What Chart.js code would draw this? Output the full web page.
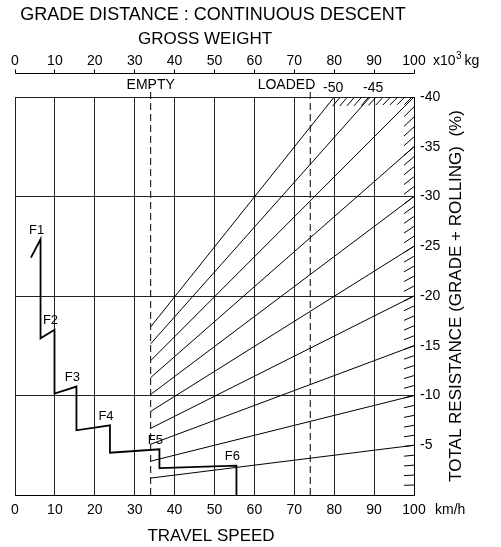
<!DOCTYPE html>
<html>
<head>
<meta charset="utf-8">
<title>Grade distance : continuous descent</title>
<script src="https://cdn.jsdelivr.net/npm/chart.js@4.4.1/dist/chart.umd.min.js"></script>
<style>
  html, body { margin: 0; padding: 0; background: #fff; }
  #wrap { position: relative; width: 501px; height: 547px; }
</style>
</head>
<body>
<div id="wrap"><canvas id="gradeChart"></canvas></div>
<script>
// ==============================
// DATA
// ==============================
const speedTicks = [0, 10, 20, 30, 40, 50, 60, 70, 80, 90, 100];        // km/h
const weightTicks = [0, 10, 20, 30, 40, 50, 60, 70, 80, 90, 100];       // x10^3 kg
const resistanceTicks = [-40, -35, -30, -25, -20, -15, -10, -5];        // %

const emptyWeight = 34;
const loadedWeight = 74;

// total resistance lines (start on the EMPTY line, end on the right edge or top)
const gradeLabels = ['-5', '-10', '-15', '-20', '-25', '-30', '-35', '-40', '-45', '-50'];
const gradeStartRes = [-1.7, -3.4, -5.1, -6.7, -8.4, -10.1, -11.8, -13.5, -15.2, -16.9];
const gradeEndWeight = [100, 100, 100, 100, 100, 100, 100, 100, 89, 80];
const gradeEndRes = [-5, -10, -15, -20, -25, -30, -35, -40, -40, -40];

// gear curves F1..F6
const gearNames = ['F1', 'F2', 'F3', 'F4', 'F5', 'F6'];
const gearStartSpeed = [4.0, 6.4, 9.9, 15.4, 23.8, 36.2];
const gearStartRes = [-23.85, -15.75, -10.2, -6.5, -4.25, -2.7];
const gearEndSpeed = [6.4, 9.9, 15.4, 23.8, 36.2, 55.5];
const gearEndRes = [-25.7, -16.6, -10.9, -7.0, -4.6, -2.95];

// ==============================
// DATASETS
// ==============================
const FONT = '"Liberation Sans", Arial, sans-serif';

const gradeSets = gradeLabels.map((lbl, i) => ({
  label: lbl,
  xAxisID: 'xw',
  data: [{ x: emptyWeight, y: gradeStartRes[i] }, { x: gradeEndWeight[i], y: gradeEndRes[i] }],
  borderColor: '#000',
  borderWidth: 1
}));

const gearPath = [];
gearNames.forEach((g, i) => {
  gearPath.push({ x: gearStartSpeed[i], y: gearStartRes[i] });
  gearPath.push({ x: gearEndSpeed[i], y: gearEndRes[i] });
});
// last gear drops down to the speed axis
gearPath.push({ x: gearEndSpeed[gearEndSpeed.length - 1], y: 0 });

const weightMarks = [emptyWeight, loadedWeight].map(w => ({
  label: 'w' + w,
  xAxisID: 'xw',
  data: [{ x: w, y: 0 }, { x: w, y: -41 }],
  borderColor: '#000',
  borderWidth: 1,
  borderDash: [7, 4],
  clip: false
}));

// ==============================
// EXTRA DRAWING (axes outside the plot, hatching, labels)
// ==============================
const decor = {
  id: 'decor',
  afterDraw(chart) {
    const { ctx, scales } = chart;
    const x = scales.x, xw = scales.xw, y = scales.y;
    const al = p => Math.round(p - 0.5) + 0.5;
    ctx.save();
    ctx.fillStyle = '#000';
    ctx.strokeStyle = '#000';
    ctx.lineWidth = 1;

    // hatching on the right edge (parallel to the resistance lines)
    ctx.beginPath();
    for (let v = 1; v < 40; v++) {
      ctx.moveTo(xw.getPixelForValue(100), y.getPixelForValue(-v));
      ctx.lineTo(xw.getPixelForValue(97.5), y.getPixelForValue(-v * 0.975));
    }
    // hatching under the top edge, beyond the -50 line
    for (let w = 81.5; w < 100; w += 1.8) {
      const w2 = w - 1.9;
      ctx.moveTo(xw.getPixelForValue(w), y.getPixelForValue(-40));
      ctx.lineTo(xw.getPixelForValue(w2), y.getPixelForValue(-40 * w2 / w));
    }
    ctx.stroke();

    ctx.textAlign = 'center';
    ctx.textBaseline = 'middle';

    // title
    ctx.font = '18px ' + FONT;
    ctx.fillText('GRADE DISTANCE : CONTINUOUS DESCENT', 213, 15, 393);
    ctx.font = '17px ' + FONT;
    ctx.fillText('GROSS WEIGHT', 205, 39);

    // gross weight axis
    const yAx = 73.5;
    ctx.beginPath();
    ctx.moveTo(al(xw.left), yAx);
    ctx.lineTo(al(xw.right), yAx);
    weightTicks.forEach(t => {
      const X = al(xw.getPixelForValue(t));
      ctx.moveTo(X, yAx);
      ctx.lineTo(X, yAx - 4);
    });
    ctx.stroke();
    ctx.font = '14px ' + FONT;
    weightTicks.forEach(t => ctx.fillText(String(t), xw.getPixelForValue(t), 61));

    // travel speed tick labels
    speedTicks.forEach(t => ctx.fillText(String(t), x.getPixelForValue(t), 510.5));

    // total resistance tick labels
    ctx.textAlign = 'left';
    resistanceTicks.forEach(t => ctx.fillText(String(t), x.right + 6, y.getPixelForValue(t)));

    ctx.fillText('x10', 433, 61);
    const w10 = ctx.measureText('x10').width;
    ctx.font = '10px ' + FONT;
    ctx.fillText('3', 433 + w10 + 0.5, 56);
    ctx.font = '14px ' + FONT;
    ctx.fillText('kg', 433 + w10 + 9, 61);
    ctx.fillText('km/h', 435, 510.5);

    // EMPTY / LOADED
    ctx.textAlign = 'center';
    ctx.fillText('EMPTY', xw.getPixelForValue(emptyWeight), 85);
    ctx.textAlign = 'right';
    ctx.fillText('LOADED', xw.getPixelForValue(loadedWeight) + 5, 85);

    // labels of the lines that leave through the top
    ctx.textAlign = 'center';
    gradeLabels.forEach((lbl, i) => {
      if (gradeEndWeight[i] < 100) {
        const X = xw.getPixelForValue(Math.round(gradeEndWeight[i] / 10) * 10) - 1;
        ctx.fillText(lbl, X, 88);
      }
    });

    // gear labels
    ctx.font = '13px ' + FONT;
    gearNames.forEach((g, i) => {
      ctx.fillText(g, x.getPixelForValue(gearEndSpeed[i]) - 4, y.getPixelForValue(gearEndRes[i]) - 9);
    });

    // axis titles
    ctx.font = '17px ' + FONT;
    ctx.fillText('TRAVEL SPEED', 211, 536);
    ctx.translate(456, 296);
    ctx.rotate(-Math.PI / 2);
    ctx.fillText('TOTAL RESISTANCE (GRADE + ROLLING)  (%)', 0, 0);
    ctx.restore();
  }
};

// ==============================
// CHART
// ==============================
new Chart(document.getElementById('gradeChart'), {
  type: 'scatter',
  data: {
    datasets: [
      ...gradeSets,
      ...weightMarks,
      {
        label: 'gears',
        xAxisID: 'x',
        data: gearPath,
        borderColor: '#000',
        borderWidth: 1.8
      }
    ]
  },
  options: {
    responsive: true,
    maintainAspectRatio: false,
    animation: false,
    showLine: true,
    elements: { point: { radius: 0, hoverRadius: 0 }, line: { tension: 0 } },
    layout: { padding: { left: 15, top: 97, right: 87, bottom: 52 } },
    plugins: { legend: { display: false }, tooltip: { enabled: false }, title: { display: false } },
    scales: {
      x: {
        type: 'linear', position: 'bottom', min: 0, max: 100,
        afterBuildTicks: s => { s.ticks = speedTicks.map(v => ({ value: v })); },
        afterFit: s => { s.height = 0; },
        grid: { color: '#222', lineWidth: 1, drawTicks: false },
        border: { color: '#000', width: 1 },
        ticks: { display: false }
      },
      xw: {
        type: 'linear', position: 'top', min: 0, max: 100, display: false,
        afterBuildTicks: s => { s.ticks = weightTicks.map(v => ({ value: v })); }
      },
      y: {
        type: 'linear', position: 'right', min: -40, max: 0, reverse: true,
        afterBuildTicks: s => { s.ticks = resistanceTicks.map(v => ({ value: v })); },
        afterFit: s => { s.width = 0; },
        grid: {
          drawTicks: false,
          lineWidth: 1,
          color: c => (c.tick && c.tick.value % 10 === 0) ? '#222' : 'rgba(0,0,0,0)'
        },
        border: { color: '#000', width: 1 },
        ticks: { display: false }
      }
    }
  },
  plugins: [decor]
});
</script>
</body>
</html>
